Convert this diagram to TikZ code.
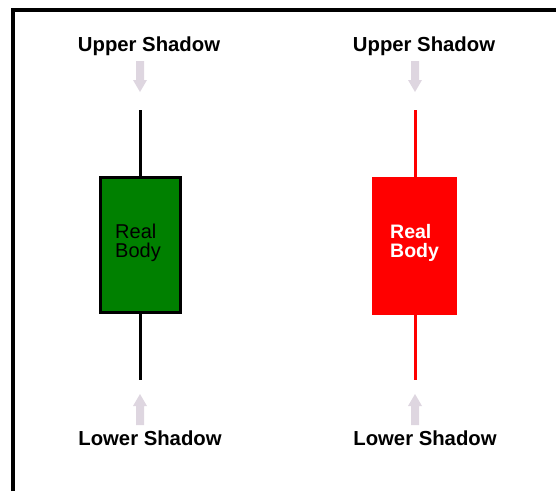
\documentclass[tikz,border=0pt]{standalone}
\usepackage{fontspec}
\setmainfont{Liberation Sans}
\begin{document}
\begin{tikzpicture}[x=1pt,y=-1pt,
  label text/.style={font=\fontsize{20.3}{21}\selectfont\bfseries, inner sep=0pt},
  body text/.style={font=\fontsize{20}{19.5}\selectfont, align=left, inner sep=0pt},
  hint arrow/.style={fill={rgb,255:red,222;green,214;blue,224}, draw=none},
  wick/.style={line width=3pt}
]
\definecolor{bullgreen}{RGB}{0,128,0}
\definecolor{bearred}{RGB}{255,0,0}
\useasboundingbox (0,0) rectangle (556,491);
% frame: top and left edges only
\draw[line width=4pt] (13,491) -- (13,10) -- (556,10);

% --- green (bullish) candle ---
\node[label text] (ul) at (149,46) {Upper Shadow};
\node[label text] (ll) at (150,438) {Lower Shadow};
\node[draw=black, line width=3pt, fill=bullgreen, minimum width=80pt, minimum height=135pt, inner sep=0pt] (gb) at (140,245) {};
\coordinate (gt) at (140,110);
\coordinate (gbot) at (140,380);
\draw[wick] (gt) -- (gb.north);
\draw[wick] (gb.south) -- (gbot);
\node[body text, anchor=west] (gtext) at (115,243) {Real\\Body};
\path[hint arrow] (136,61) -- (144,61) -- (144,80) -- (147,80) -- (140,92) -- (133,80) -- (136,80) -- cycle;
\path[hint arrow] (136,425) -- (144,425) -- (144,406) -- (147,406) -- (140,394) -- (133,406) -- (136,406) -- cycle;

% --- red (bearish) candle ---
\node[label text] (ur) at (424,46) {Upper Shadow};
\node[label text] (lr) at (425,438) {Lower Shadow};
\coordinate (rt) at (415,110);
\coordinate (rbot) at (415,380);
\draw[wick, bearred] (rt) -- (rbot);
\node[fill=bearred, minimum width=85pt, minimum height=138pt, inner sep=0pt] (rb) at (414.5,246) {};
\node[body text, font=\fontsize{19.5}{19.5}\selectfont\bfseries, text=white, anchor=west] (rtext) at (390,243) {Real\\Body};
\path[hint arrow] (411,61) -- (419,61) -- (419,80) -- (422,80) -- (415,92) -- (408,80) -- (411,80) -- cycle;
\path[hint arrow] (411,425) -- (419,425) -- (419,406) -- (422,406) -- (415,394) -- (408,406) -- (411,406) -- cycle;
\end{tikzpicture}
\end{document}
